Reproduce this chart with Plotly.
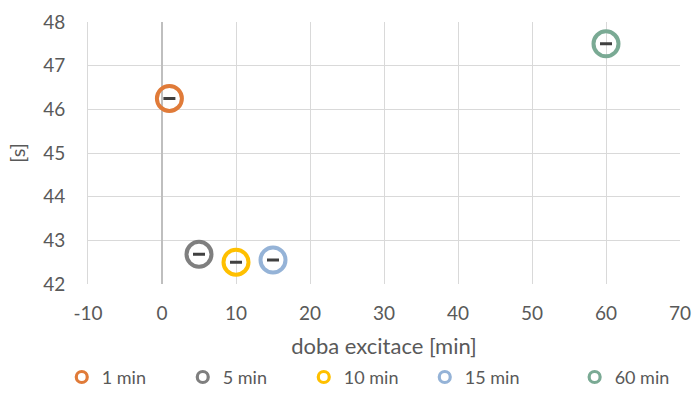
import plotly.graph_objects as go

# excitation durations and measured times
names = ["1 min", "5 min", "10 min", "15 min", "60 min"]
x_min = [1, 5, 10, 15, 60]
t_s = [46.25, 42.68, 42.50, 42.55, 47.50]
t_err = [0.01, 0.01, 0.01, 0.01, 0.01]
colors = ["#E07B39", "#7F7F7F", "#FFC000", "#95B3D7", "#7AAA94"]

x_ticks = [-10, 0, 10, 20, 30, 40, 50, 60, 70]
x_labels = ["-10", "0", "10", "20", "30", "40", "50", "60", "70"]
y_ticks = [42, 43, 44, 45, 46, 47, 48]

FONT = "Lato, Open Sans, sans-serif"
TXT = "#595959"

fig = go.Figure()
for i, (n, x, y, e, c) in enumerate(zip(names, x_min, t_s, t_err, colors)):
    lg = "legend2" if i == 4 else "legend"
    # data point with its error cap
    fig.add_trace(go.Scatter(
        x=[x], y=[y], name=n, mode="markers", legendgroup=n, showlegend=False,
        marker=dict(symbol="circle-open", size=25, color=c,
                    line=dict(width=4, color=c)),
        error_y=dict(type="data", array=[e], visible=True,
                     color="#404040", thickness=2.2, width=6),
    ))
    # smaller legend key for the same series
    fig.add_trace(go.Scatter(
        x=[None], y=[None], name=n, mode="markers", legendgroup=n,
        legend=lg, showlegend=True,
        marker=dict(symbol="circle-open", size=11, color=c,
                    line=dict(width=3.2, color=c)),
    ))

legend_common = dict(
    orientation="h", xref="container", yref="container",
    yanchor="middle", y=0.04, xanchor="left",
    font=dict(size=18, color=TXT), itemwidth=30,
    traceorder="normal", bgcolor="rgba(0,0,0,0)",
)

fig.update_layout(
    width=694, height=393,
    margin=dict(l=88, r=14, t=22, b=109, autoexpand=False),
    paper_bgcolor="white", plot_bgcolor="white",
    font=dict(family=FONT, size=18, color=TXT),
    showlegend=True,
    legend=dict(**legend_common, x=0.089, entrywidth=76, entrywidthmode="pixels"),
    legend2=dict(**legend_common, x=0.828),
)
fig.update_xaxes(
    range=[-10, 70], tickvals=x_ticks, ticktext=x_labels, ticks="",
    showgrid=True, gridcolor="#D9D9D9", gridwidth=1,
    zeroline=True, zerolinecolor="#BFBFBF", zerolinewidth=1.5,
    showline=False, ticklabelstandoff=16,
    title=dict(text="doba excitace [min]", font=dict(size=22, color=TXT), standoff=34),
    tickfont=dict(size=19, color=TXT),
)
fig.update_yaxes(
    range=[42, 48], tickvals=y_ticks, ticks="",
    showgrid=True, gridcolor="#D9D9D9", gridwidth=1,
    zeroline=False, showline=True, linecolor="#D9D9D9", mirror=False,
    ticklabelstandoff=18,
    title=dict(text="[s]", font=dict(size=20, color=TXT), standoff=12),
    tickfont=dict(size=19, color=TXT),
)

fig.write_html("out.html")
